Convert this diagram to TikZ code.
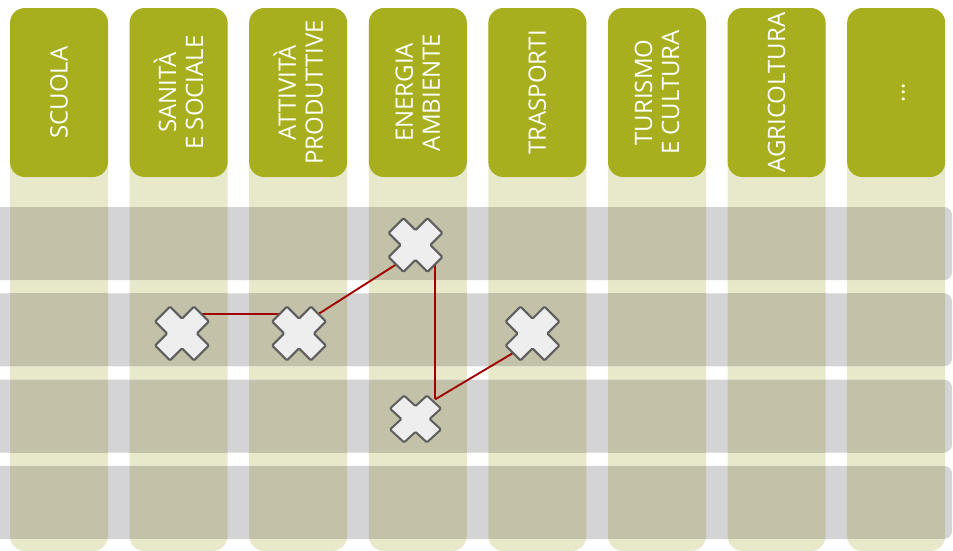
\documentclass[tikz,border=0pt]{standalone}
\usepackage{fontspec}
\setmainfont{Open Sans}
\definecolor{headolive}{HTML}{A8AF1E}
\definecolor{colcream}{HTML}{E8E8CB}
\definecolor{rowgrey}{HTML}{D4D4D6}
\definecolor{overlap}{HTML}{C3C2A8}
\definecolor{linkred}{HTML}{A00000}
\definecolor{markfill}{HTML}{EEEEEE}
\definecolor{markline}{HTML}{5E5E5E}
\tikzset{
  header/.style={rectangle, rounded corners=15pt, fill=headolive, text=white,
    minimum width=169pt, minimum height=98pt, inner sep=0pt, rotate=90,
    align=center, font=\fontsize{24}{27}\selectfont},
  marknode/.style={circle, minimum size=55pt, inner sep=0pt},
  link/.style={draw=linkred, line width=1.9pt},
  xmark/.pic={
    \draw[fill=markfill, draw=markline, line width=2pt, rounded corners=1.2pt, rotate=45]
      (-10.5,-27.5) -- (10.5,-27.5) -- (10.5,-10.5) -- (27.5,-10.5) -- (27.5,10.5) -- (10.5,10.5)
      -- (10.5,27.5) -- (-10.5,27.5) -- (-10.5,10.5) -- (-27.5,10.5) -- (-27.5,-10.5) -- (-10.5,-10.5) -- cycle;
  }
}
\begin{document}
\begin{tikzpicture}[x=1pt,y=-1pt]
\useasboundingbox (0,0) rectangle (953,550);
% columns
\foreach \i in {0,...,7}{
  \pgfmathsetmacro\cx{10+119.6*\i}
  \fill[colcream, rounded corners=15pt] (\cx,8) rectangle (\cx+98,551);
}
% rows
\foreach \j in {0,...,3}{
  \pgfmathsetmacro\ry{207+86.3*\j}
  \fill[rowgrey, rounded corners=8pt] (-20,\ry) rectangle (952,\ry+73);
}
% overlaps
\foreach \i in {0,...,7}{
  \pgfmathsetmacro\cx{10+119.6*\i}
  \begin{scope}
    \clip[rounded corners=15pt] (\cx,8) rectangle (\cx+98,551);
    \foreach \j in {0,...,3}{
      \pgfmathsetmacro\ry{207+86.3*\j}
      \fill[overlap] (-20,\ry) rectangle (952,\ry+73);
    }
  \end{scope}
}
% headers
\node[header] (h1) at (59,92.5) {SCUOLA};
\node[header] (h2) at (178.6,92.5) {SANITÀ\\E SOCIALE};
\node[header] (h3) at (298.2,92.5) {ATTIVITÀ\\PRODUTTIVE};
\node[header] (h4) at (417.8,92.5) {ENERGIA\\AMBIENTE};
\node[header] (h5) at (537.4,92.5) {TRASPORTI};
\node[header] (h6) at (657,92.5) {TURISMO\\E CULTURA};
\node[header] (h7) at (776.6,92.5) {AGRICOLTURA};
\node[header] (h8) at (896.2,92.5) {\vphantom{A}...};
% marks
\node[marknode] (A) at (182,333.5) {};
\node[marknode] (B) at (299,333.5) {};
\node[marknode] (C) at (415.5,245) {};
\node[marknode] (D) at (415.5,419) {};
\node[marknode] (E) at (532.5,333.5) {};
% links
\draw[link] (A.north east) -- (B.north west);
\draw[link] (B.north east) -- (C.south west);
\draw[link] (C.south east) -- (D.north east);
\draw[link] (D.north east) -- (E.south west);
% crosses
\pic at (A) {xmark};
\pic at (B) {xmark};
\pic at (C) {xmark};
\pic[xscale=0.95, yscale=0.87] at (D) {xmark};
\pic at (E) {xmark};
\end{tikzpicture}
\end{document}
